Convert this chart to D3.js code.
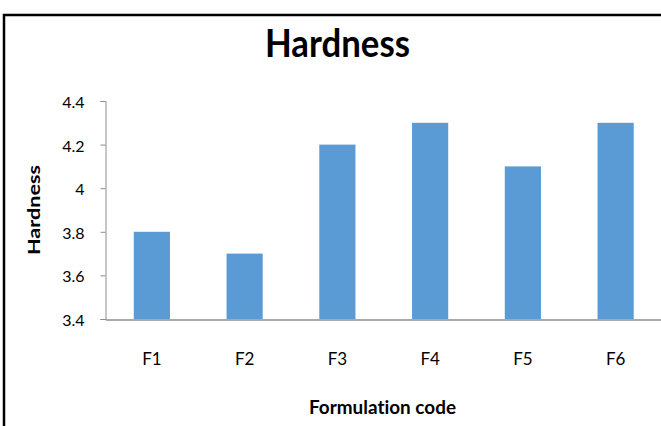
<!DOCTYPE html>
<html><head><meta charset="utf-8">
<script src="https://cdn.jsdelivr.net/npm/d3@7"></script>
<style>body{margin:0;background:#fff}svg{display:block}text{font-variant-ligatures:none;font-feature-settings:"liga" 0}</style>
</head><body>
<svg id="c" width="661" height="426"></svg>
<script>
const categories = ["F1","F2","F3","F4","F5","F6"];
const hardness = [3.8, 3.7, 4.2, 4.3, 4.1, 4.3];
const yTicks = [3.4, 3.6, 3.8, 4.0, 4.2, 4.4];

const svg = d3.select("#c");
const font = "Lato, 'Open Sans', sans-serif";

// frame
svg.append("rect").attr("x",4).attr("y",15).attr("width",700).attr("height",450)
  .attr("fill","none").attr("stroke","#000").attr("stroke-width",2.5);

const x = d3.scaleBand().domain(categories).range([105.5, 662]).paddingInner(0.61).paddingOuter(0.305);
const y = d3.scaleLinear().domain([3.4, 4.4]).range([319, 101]);

svg.append("g").selectAll("rect").data(categories).join("rect")
  .attr("x", d => x(d)).attr("width", x.bandwidth())
  .attr("y", (d,i) => y(hardness[i])).attr("height", (d,i) => y(3.4) - y(hardness[i]))
  .attr("fill", "#5B9BD5");

const yAxis = svg.append("g").attr("transform","translate(105.5,0)")
  .call(d3.axisLeft(y).tickValues(yTicks).tickSize(5).tickPadding(16).tickFormat(d => String(+d.toFixed(1))));
yAxis.select(".domain").attr("stroke","#8c8c8c");
yAxis.selectAll(".tick line").attr("stroke","#8c8c8c");
yAxis.selectAll("text").attr("font-family",font).attr("font-size",16).attr("fill","#000").attr("dy","0.4em");

const xAxis = svg.append("g").attr("transform","translate(0,319.5)")
  .call(d3.axisBottom(x).tickSize(0).tickPadding(33).tickSizeOuter(0));
xAxis.select(".domain").attr("stroke","#8c8c8c").attr("stroke-width",1.5);
xAxis.selectAll("text").attr("font-family",font).attr("font-size",17).attr("fill","#000");

svg.append("text").attr("x",337.5).attr("y",57).attr("text-anchor","middle")
  .attr("font-family",font).attr("font-weight","bold").attr("font-size",39)
  .attr("textLength",145).attr("lengthAdjust","spacingAndGlyphs").text("Hardness");

svg.append("text").attr("x",382.5).attr("y",414).attr("text-anchor","middle")
  .attr("font-family",font).attr("font-weight","bold").attr("font-size",18)
  .attr("textLength",147).attr("lengthAdjust","spacingAndGlyphs").text("Formulation code");

svg.append("text").attr("transform","translate(40,210) rotate(-90)").attr("text-anchor","middle")
  .attr("font-family",font).attr("font-weight","bold").attr("font-size",17.5)
  .attr("textLength",90).attr("lengthAdjust","spacingAndGlyphs").text("Hardness");
</script>
</body></html>
